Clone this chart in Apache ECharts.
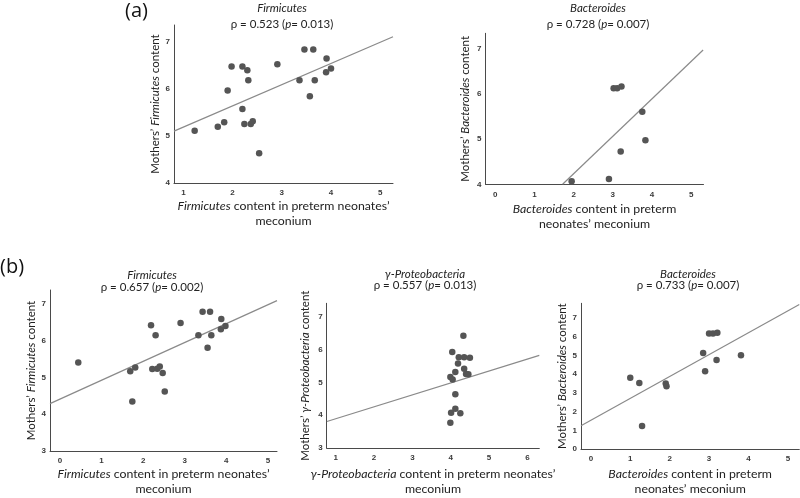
<!DOCTYPE html>
<html><head><meta charset="utf-8">
<script src="https://cdn.jsdelivr.net/npm/echarts@6/dist/echarts.min.js"></script>
<style>html,body{margin:0;padding:0;background:#fff}#c{width:800px;height:498px}</style>
</head><body><div id="c"></div>
<script>
// ---------- data ----------
// (a) Firmicutes
const aFirmX = [1.23,1.70,1.83,1.90,1.98,2.20,2.30,2.32,2.20,2.24,2.37,2.41,2.54,2.91,3.36,3.46,3.64,3.57,3.67,3.91,3.90,4.00];
const aFirmY = [5.11,5.19,5.29,5.96,6.47,6.47,6.39,6.18,5.57,5.25,5.25,5.31,4.63,6.52,6.18,6.83,6.83,5.84,6.18,6.64,6.35,6.43];
const aFirmFitX = [0.81,5.26];
const aFirmFitY = [5.10,7.10];
// (a) Bacteroides
const aBactX = [1.95,2.90,3.02,3.11,3.22,3.20,3.75,3.83];
const aBactY = [4.07,4.12,6.13,6.13,6.17,4.73,5.61,4.98];
const aBactFitX = [1.72,5.30];
const aBactFitY = [4.00,6.98];
// (b) Firmicutes
const bFirmX = [0.44,1.69,1.81,1.74,2.19,2.30,2.22,2.34,2.40,2.47,2.52,2.90,3.33,3.43,3.61,3.55,3.64,3.88,3.87,3.98];
const bFirmY = [5.41,5.17,5.27,4.35,6.42,6.15,5.23,5.24,5.30,5.12,4.62,6.48,6.15,6.79,6.79,5.81,6.15,6.59,6.31,6.40];
const bFirmFitX = [-0.24,5.22];
const bFirmFitY = [4.29,7.09];
// (b) gamma-Proteobacteria
const bProtX = [4.33,4.04,4.21,4.35,4.50,4.19,4.35,4.12,3.99,4.05,4.40,4.46,4.12,4.12,4.01,4.25,3.99];
const bProtY = [6.43,5.93,5.77,5.77,5.76,5.58,5.42,5.32,5.17,5.09,5.26,5.25,4.64,4.20,4.08,4.06,3.77];
const bProtFitX = [0.77,6.31];
const bProtFitY = [3.81,5.83];
// (b) Bacteroides
const bBactX = [1.00,1.23,1.30,1.90,1.92,2.85,2.90,3.00,3.10,3.21,3.19,3.81];
const bBactY = [3.82,3.53,1.23,3.51,3.36,5.14,4.16,6.18,6.18,6.22,4.76,5.02];
const bBactFitX = [-0.25,5.29];
const bBactFitY = [1.24,7.74];

// tick labels
const aFirmXTicks = [1,2,3,4,5];
const aFirmYTicks = [4,5,6,7];
const aBactXTicks = [0,1,2,3,4,5];
const aBactYTicks = [4,5,6,7];
const bFirmXTicks = [0,1,2,3,4,5];
const bFirmYTicks = [3,4,5,6,7];
const bProtXTicks = [1,2,3,4,5,6];
const bProtYTicks = [3,4,5,6,7];
const bBactXTicks = [0,1,2,3,4,5];
const bBactYTicks = [0,1,2,3,4,5,6,7];

// titles & texts
const taxa = ['Firmicutes','Bacteroides','Firmicutes','γ-Proteobacteria','Bacteroides'];
const rhoVals = ['0.523','0.728','0.657','0.557','0.733'];
const pVals = ['0.013','0.007','0.002','0.013','0.007'];

// ---------- chart ----------
const FONT = 'Lato';
const TXT = '#222';
const richI = {i:{fontStyle:'italic', fontFamily:FONT, fontSize:11.5, color:TXT}, n:{fontFamily:FONT, fontSize:11.5, color:TXT}};
const richX = {i:{fontStyle:'italic', fontFamily:FONT, fontSize:12.3, color:TXT, lineHeight:15}};

function pairs(xs, ys){ return xs.map((v,i)=>[v, ys[i]]); }

const panels = [
  {x:aFirmX,y:aFirmY,fx:aFirmFitX,fy:aFirmFitY,xr:[0.81,5.26],yr:[4,7.35],xt:aFirmXTicks,yt:aFirmYTicks,
   grid:{left:174,top:25,width:219,height:158}, xName:'{i|Firmicutes} content in preterm neonates’\nmeconium', xGap:16, yGap:11,
   tx:282, ty1:8, ty2:24},
  {x:aBactX,y:aBactY,fx:aBactFitX,fy:aBactFitY,xr:[-0.245,5.31],yr:[4,7.35],xt:aBactXTicks,yt:aBactYTicks,
   grid:{left:485.5,top:33.3,width:218,height:151}, xName:'{i|Bacteroides} content in preterm\nneonates’ meconium', xGap:17, yGap:14,
   tx:598, ty1:8, ty2:24},
  {x:bFirmX,y:bFirmY,fx:bFirmFitX,fy:bFirmFitY,xr:[-0.24,5.22],yr:[3,7.38],xt:bFirmXTicks,yt:bFirmYTicks,
   grid:{left:50,top:290,width:227,height:164}, xName:'{i|Firmicutes} content in preterm neonates’\nmeconium', xGap:16, yGap:11,
   tx:152, ty1:275, ty2:287},
  {x:bProtX,y:bProtY,fx:bProtFitX,fy:bProtFitY,xr:[0.765,6.31],yr:[3,7.42],xt:bProtXTicks,yt:bProtYTicks,
   grid:{left:326.7,top:303.3,width:212.6,height:150.7}, xName:'{i|γ-Proteobacteria} content in preterm neonates’\nmeconium', xGap:19, yGap:15,
   tx:425, ty1:274, ty2:285},
  {x:bBactX,y:bBactY,fx:bBactFitX,fy:bBactFitY,xr:[-0.25,5.29],yr:[0,7.8],xt:bBactXTicks,yt:bBactYTicks,
   grid:{left:581,top:303.3,width:218.3,height:151}, xName:'{i|Bacteroides} content in preterm\nneonates’ meconium', xGap:18, yGap:13,
   tx:688, ty1:274, ty2:285}
];

const grids=[], xAxes=[], yAxes=[], series=[], graphics=[];
const axisLine = {show:true, onZero:false, lineStyle:{color:'#4a4a4a', width:1}};
const tickLabel = {fontFamily:'Liberation Sans', fontWeight:'bold', fontSize:8, color:'#3a3a3a'};

panels.forEach((p,k)=>{
  grids.push(Object.assign({containLabel:false}, p.grid));
  xAxes.push({type:'value', gridIndex:k, min:p.xr[0], max:p.xr[1],
    axisLine, axisTick:{show:false}, splitLine:{show:false},
    axisLabel:Object.assign({margin:6, customValues:p.xt, showMinLabel:true, showMaxLabel:true}, tickLabel),
    name:p.xName, nameLocation:'middle', nameGap:p.xGap,
    nameTextStyle:{fontFamily:FONT, fontSize:12.3, color:TXT, lineHeight:15, rich:richX}});
  yAxes.push({type:'value', gridIndex:k, min:p.yr[0], max:p.yr[1],
    axisLine, axisTick:{show:false}, splitLine:{show:false},
    axisLabel:Object.assign({margin:4, customValues:p.yt, showMinLabel:true, showMaxLabel:true}, tickLabel),
    name:'Mothers’ {i|'+taxa[k]+'} content', nameLocation:'middle', nameGap:p.yGap,
    nameTextStyle:{fontFamily:FONT, fontSize:11.5, color:TXT, rich:richI}});
  series.push({type:'line', xAxisIndex:k, yAxisIndex:k, data:pairs(p.fx,p.fy), showSymbol:false, symbol:'none',
    lineStyle:{color:'#8a8a8a', width:1.2}, silent:true, z:1, clip:true});
  series.push({type:'scatter', xAxisIndex:k, yAxisIndex:k, data:pairs(p.x,p.y), symbol:'circle', symbolSize:6.5,
    itemStyle:{color:'#555555', opacity:1}, z:2});
  graphics.push({type:'text', x:p.tx, y:p.ty1, style:{text:taxa[k], fontFamily:FONT, fontSize:11.5, fontStyle:'italic', fill:TXT,
    align:'center', verticalAlign:'middle', textAlign:'center', textVerticalAlign:'middle'}});
  graphics.push({type:'text', x:p.tx, y:p.ty2, style:{text:'{n|ρ = '+rhoVals[k]+' (}{i|p}{n|= '+pVals[k]+')}', rich:richI,
    fontFamily:FONT, fontSize:11.5, fill:TXT,
    align:'center', verticalAlign:'middle', textAlign:'center', textVerticalAlign:'middle'}});
});

graphics.push({type:'text', x:125, y:11, style:{text:'(a)', fontFamily:'Open Sans', fontSize:20, fill:'#111',
  align:'left', verticalAlign:'middle', textAlign:'left', textVerticalAlign:'middle'}});
graphics.push({type:'text', x:0, y:267, style:{text:'(b)', fontFamily:'Open Sans', fontSize:20, fill:'#111',
  align:'left', verticalAlign:'middle', textAlign:'left', textVerticalAlign:'middle'}});

const chart = echarts.init(document.getElementById('c'));
chart.setOption({
  backgroundColor:'#ffffff', animation:false,
  grid:grids, xAxis:xAxes, yAxis:yAxes, series, graphic:graphics
});
</script>
</body></html>
